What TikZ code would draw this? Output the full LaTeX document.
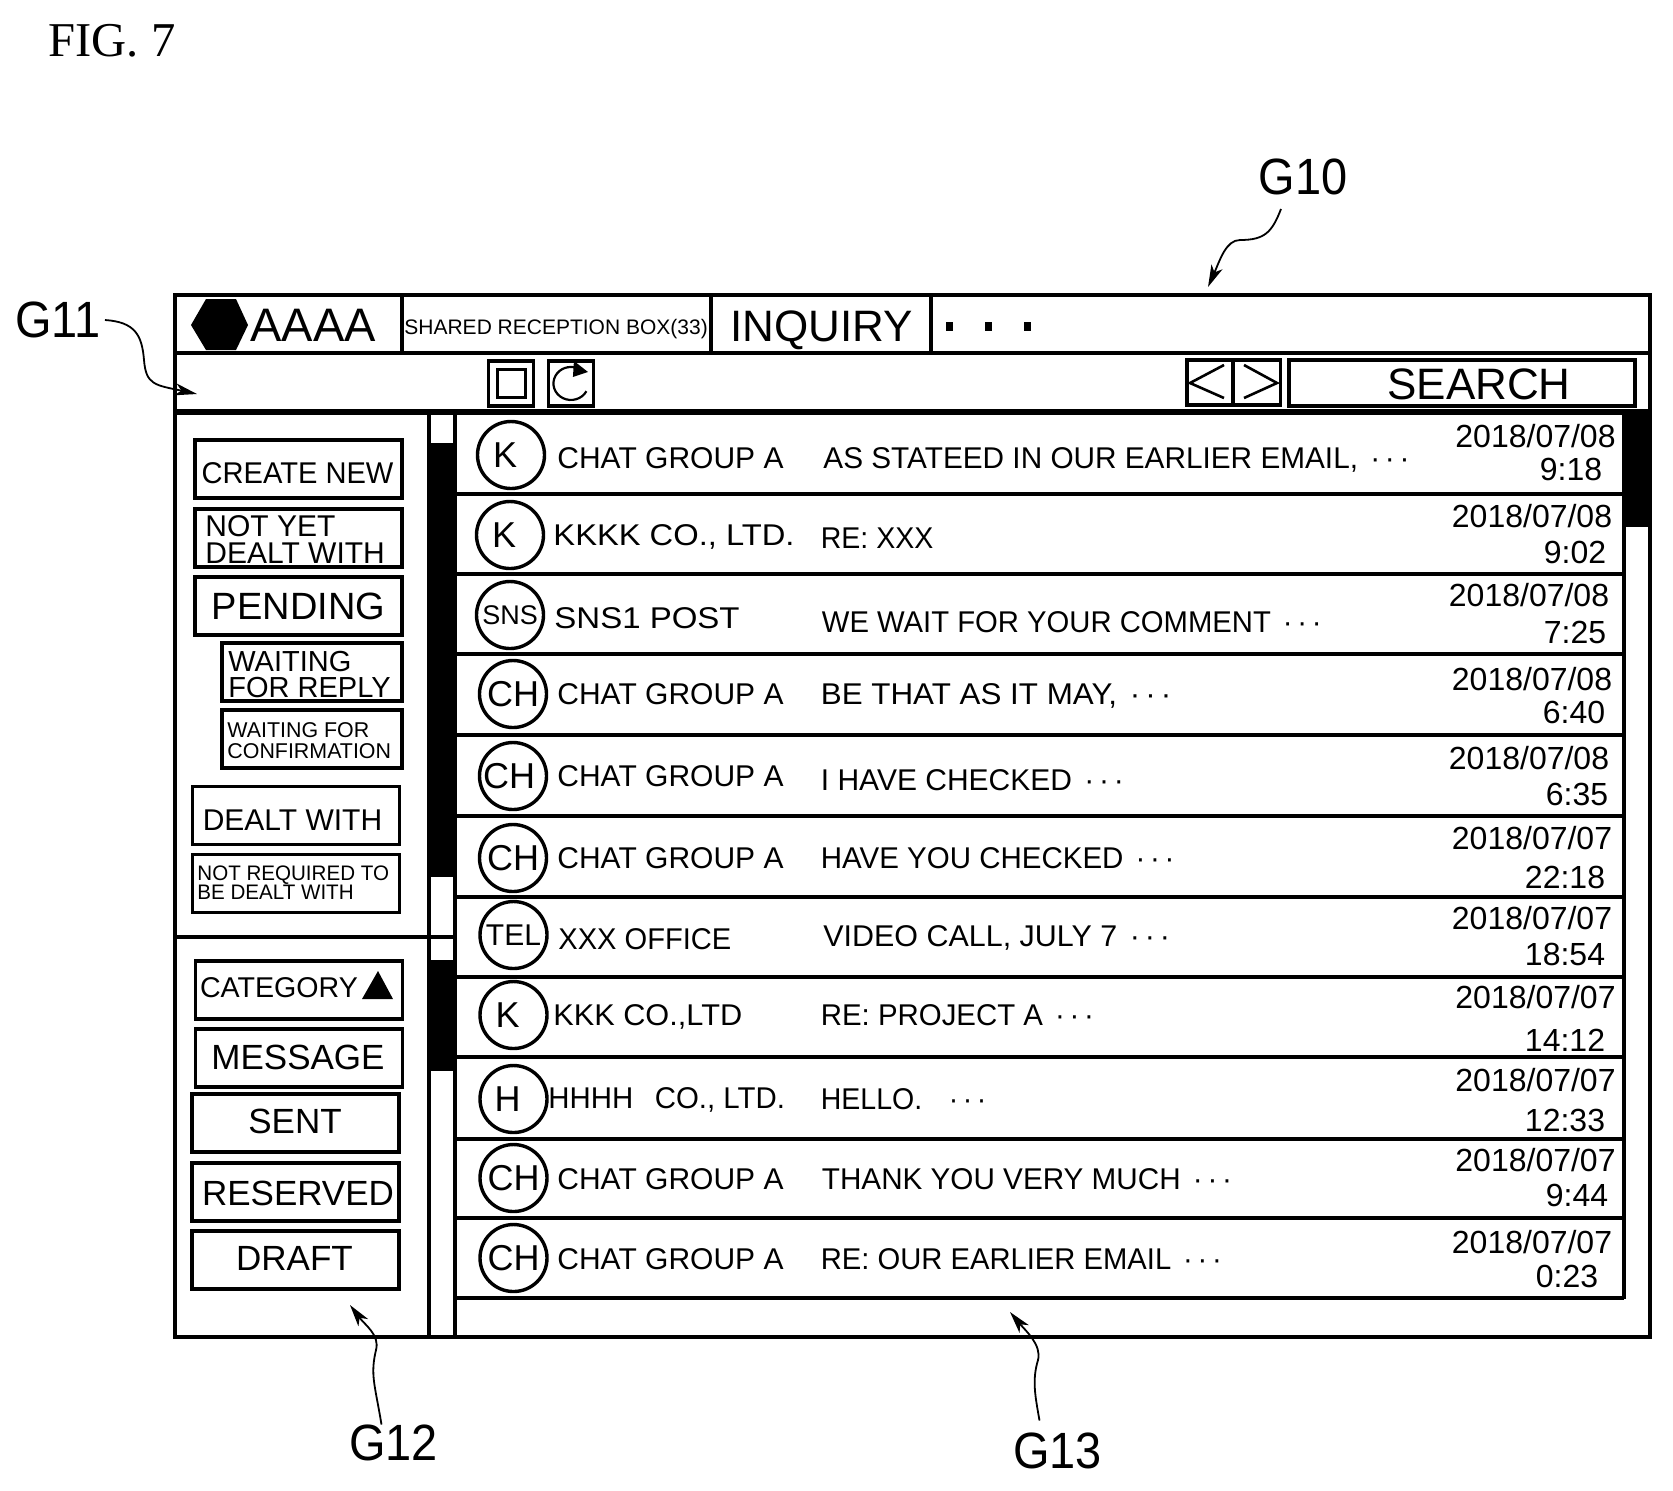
\documentclass[tikz,border=0pt]{standalone}
\usepackage{fontspec}
\setmainfont{Liberation Sans}
\newfontfamily\figfont{Liberation Serif}
\usetikzlibrary{positioning}
\usetikzlibrary{arrows.meta}
\newcommand{\rowdots}{\hspace{2pt}·\hspace{2.4pt}·\hspace{2.4pt}·}

\begin{document}
\begin{tikzpicture}[
		x=0.5pt,y=-0.5pt,
		frame/.style={draw=black,line width=1.6pt},
		rule/.style={draw=black,line width=2.4pt},
		btn/.style={draw=black,line width=1.9pt,inner sep=0pt,outer sep=0pt,minimum width=103.5pt,minimum height=29pt},
		subbtn/.style={btn,minimum width=90pt},
		toolbtn/.style={btn,minimum width=22.5pt,minimum height=22.5pt},
		badge/.style={draw=black,circle,line width=1.7pt,inner sep=0pt,outer sep=0pt,minimum size=33.5pt,font=\fontsize{18}{18}\selectfont},
		rowtext/.style={anchor=west,inner sep=0pt,font=\fontsize{15}{15}\selectfont,text height=10.7pt,text depth=0pt},
		datetext/.style={inner sep=0pt,font=\fontsize{16}{16}\selectfont,text height=11.4pt,text depth=0pt},
		btntext/.style={inner sep=0pt,text depth=0pt,text height=0.716*#1pt,font=\fontsize{#1}{#1}\selectfont},
		twolines/.style={anchor=west,align=left,inner sep=0pt},
		reftext/.style={inner sep=0pt,xscale=0.92,font=\fontsize{25.5}{25.5}\selectfont},
		leader/.style={draw=black,line width=0.9pt,-{Stealth[length=11pt,width=6pt,inset=3pt]}},
		scrollthumb/.style={fill=black},
	]
	\useasboundingbox (0,0) rectangle (1673,1490);
	\node (fig) [inner sep=0pt,font=\figfont\fontsize{24.3}{24.3}\selectfont] at (112,41) {FIG. 7};
	% Draw window frame and rules
	\draw[frame] (175,295) rectangle (1650,1337);
	\draw[rule] (175,353) -- (1650,353);
	\draw[rule,line width=2.8pt] (175,412) -- (1650,412);
	\draw[frame] (402,295) -- (402,353);
	\draw[frame] (711,295) -- (711,353);
	\draw[frame] (931,295) -- (931,353);
	\draw[frame] (429,412) -- (429,1337);
	\draw[rule] (455,412) -- (455,1337);
	\draw[rule] (175,937) -- (455,937);
	\draw[rule] (1624,412) -- (1624,1299);
	\draw[rule] (455,494) -- (1624,494);
	\draw[rule] (455,574) -- (1624,574);
	\draw[rule] (455,654) -- (1624,654);
	\draw[rule] (455,735) -- (1624,735);
	\draw[rule] (455,816) -- (1624,816);
	\draw[rule] (455,897) -- (1624,897);
	\draw[rule] (455,977) -- (1624,977);
	\draw[rule] (455,1057) -- (1624,1057);
	\draw[rule] (455,1139) -- (1624,1139);
	\draw[rule] (455,1218) -- (1624,1218);
	\draw[rule] (455,1298) -- (1624,1298);
	% Draw scroll thumbs
	\fill[scrollthumb] (428,443) rectangle (457,877);
	\fill[scrollthumb] (428,960) rectangle (457,1071);
	\fill[scrollthumb] (1624,412) rectangle (1650,527);
	% Draw title bar
	\fill (191,325) -- (206,299) -- (236,299) -- (248,325) -- (236,350) -- (206,350) -- cycle;
	\node (account) [btntext=23.5,anchor=west] at (250,325) {AAAA};
	\node (sharedbox) [btntext=10.5,anchor=west] at (404,327) {SHARED RECEPTION BOX(33)};
	\node (inquiry) [btntext=22,anchor=west] at (730,326) {INQUIRY};
	\foreach \dotx/\dotname in {949/dota,988/dotb,1027/dotc}
		\node (\dotname) [fill=black,inner sep=0pt,minimum width=3.5pt,minimum height=4.5pt] at (\dotx,326) {};
	% Draw toolbar
	\node (selectbtn) [toolbtn] at (511,383.5) {};
	\node (selectmark) [draw=black,line width=1.5pt,minimum width=14pt,minimum height=14pt,inner sep=0pt] at (511,383) {};
	\node (reloadbtn) [toolbtn] at (571,383.5) {};
	\draw[line width=1.1pt] (586.4,391.2) arc[start angle=-28,end angle=-290,x radius=8.75pt,y radius=8.25pt] coordinate (reloadend);
	\fill (reloadend) ++(-3,-7) -- ++(14,11) -- ++(-15,5) -- cycle;
	\node (prevbtn) [toolbtn,minimum width=23pt] at (1210,382.5) {};
	\node (nextbtn) [toolbtn,minimum width=23.5pt] at (1257,382.5) {};
	\draw[line width=1.3pt] (1224,365) -- (1190,383) -- (1224,398);
	\draw[line width=1.3pt] (1244,365) -- (1277,383) -- (1244,398);
	\node (searchbtn) [btn,minimum width=173pt,minimum height=23pt] at (1462,383) {};
	\node (searchtext) [btntext=22] at (1479,384) {SEARCH};
	% Draw upper menu
	\node (createnew) [btn] at (298.5,469) {};
	\node (createnewtext) [btntext=15,xscale=0.97] at (297.5,473) {CREATE NEW};
	\node (notyet) [btn] at (298.5,538) {};
	\node (notyettext) [twolines,font=\fontsize{15}{13.5}\selectfont] at (205,540) {NOT YET\\DEALT WITH};
	\node (pending) [btn] at (298.5,606) {};
	\node (pendingtext) [btntext=19] at (298.5,606) {PENDING};
	\node (waitreply) [subbtn] at (312,672) {};
	\node (waitreplytext) [twolines,font=\fontsize{14.5}{13}\selectfont] at (228,674) {WAITING\\FOR REPLY};
	\node (waitconfirm) [subbtn] at (312,739) {};
	\node (waitconfirmtext) [twolines,font=\fontsize{10.7}{10.5}\selectfont] at (227,741) {WAITING FOR\\CONFIRMATION};
	\node (dealtwith) [btn] at (296,815.5) {};
	\node (dealtwithtext) [btntext=15] at (292.5,820) {DEALT WITH};
	\node (notrequired) [btn] at (296,883.5) {};
	\node (notrequiredtext) [twolines,font=\fontsize{10.5}{9.5}\selectfont,xscale=0.98] at (197,882.5) {NOT REQUIRED TO\\BE DEALT WITH};
	% Draw lower menu
	\node (category) [btn] at (299,990) {};
	\node (categorytext) [btntext=14.3] at (279,987) {CATEGORY};
	\fill (378,971) -- (393,999) -- (362,999) -- cycle;
	\node (message) [btn] at (299,1058) {};
	\node (messagetext) [btntext=17.5] at (298,1057) {MESSAGE};
	\node (sent) [btn] at (295.5,1123) {};
	\node (senttext) [btntext=17.5] at (295,1121) {SENT};
	\node (reserved) [btn] at (295.5,1192) {};
	\node (reservedtext) [btntext=17.5] at (298,1193) {RESERVED};
	\node (draft) [btn] at (295.5,1260) {};
	\node (drafttext) [btntext=17.5] at (294.5,1258) {DRAFT};
	% Draw message rows
	\node (badgea) [badge] at (511,455) {K\hspace{6pt}\null};
	\node (namea) [rowtext] at (557,458) {CHAT GROUP A};
	\node (subja) [rowtext,xscale=0.992] at (823,458) {AS STATEED IN OUR EARLIER EMAIL, \rowdots};
	\node (datea) [datetext] at (1535.5,436) {2018/07/08};
	\node (timea) [datetext] at (1571,469.5) {9:18};
	\node (badgeb) [badge] at (510,535) {K\hspace{6pt}\null};
	\node (nameb) [rowtext,xscale=1.09] at (553,535) {KKKK CO., LTD.};
	\node (subjb) [rowtext,xscale=0.95] at (820.5,538) {RE: XXX};
	\node (dateb) [datetext] at (1532,516) {2018/07/08};
	\node (timeb) [datetext] at (1575,552) {9:02};
	\node (badgec) [badge,font=\fontsize{13.5}{13.5}\selectfont] at (510,615) {SNS};
	\node (namec) [rowtext,xscale=1.1] at (554,618) {SNS1 POST};
	\node (subjc) [rowtext,xscale=0.975] at (821.5,622) {WE WAIT FOR YOUR COMMENT \rowdots};
	\node (datec) [datetext] at (1529,595) {2018/07/08};
	\node (timec) [datetext] at (1575,632) {7:25};
	\node (badged) [badge] at (513,694) {CH};
	\node (named) [rowtext] at (557,694) {CHAT GROUP A};
	\node (subjd) [rowtext,xscale=1.045] at (820.5,694) {BE THAT AS IT MAY, \rowdots};
	\node (dated) [datetext] at (1532,679) {2018/07/08};
	\node (timed) [datetext] at (1574,712) {6:40};
	\node (badgee) [badge] at (513,776) {CH\hspace{4pt}\null};
	\node (namee) [rowtext] at (557,776) {CHAT GROUP A};
	\node (subje) [rowtext] at (820.5,780) {I HAVE CHECKED \rowdots};
	\node (datee) [datetext] at (1529,758) {2018/07/08};
	\node (timee) [datetext] at (1577,794) {6:35};
	\node (badgef) [badge] at (513,858) {CH};
	\node (namef) [rowtext] at (557,858) {CHAT GROUP A};
	\node (subjf) [rowtext,xscale=0.983] at (820.5,858) {HAVE YOU CHECKED \rowdots};
	\node (datef) [datetext] at (1532,838) {2018/07/07};
	\node (timef) [datetext] at (1565,877) {22:18};
	\node (badgeg) [badge,font=\fontsize{15}{15}\selectfont] at (513.5,935) {TEL};
	\node (nameg) [rowtext,xscale=0.97] at (558,939) {XXX OFFICE};
	\node (subjg) [rowtext,xscale=1.015] at (823,936) {VIDEO CALL, JULY 7 \rowdots};
	\node (dateg) [datetext] at (1532,918) {2018/07/07};
	\node (timeg) [datetext] at (1565,954) {18:54};
	\node (badgeh) [badge] at (513.5,1015) {K\hspace{6pt}\null};
	\node (nameh) [rowtext,xscale=1.023] at (553,1015) {KKK CO.,LTD};
	\node (subjh) [rowtext,xscale=0.98] at (820.5,1015) {RE: PROJECT A \rowdots};
	\node (dateh) [datetext] at (1535.5,997) {2018/07/07};
	\node (timeh) [datetext] at (1565,1040) {14:12};
	\node (badgei) [badge] at (513.5,1099) {H\hspace{6pt}\null};
	\node (namei) [rowtext,xscale=0.98] at (548,1098) {HHHH\hspace{11pt}CO., LTD.};
	\node (subji) [rowtext,xscale=0.95] at (820.5,1099) {HELLO.\hspace{12pt}\rowdots};
	\node (datei) [datetext] at (1535.5,1080) {2018/07/07};
	\node (timei) [datetext] at (1565,1120) {12:33};
	\node (badgej) [badge] at (513.5,1178) {CH};
	\node (namej) [rowtext] at (557,1179) {CHAT GROUP A};
	\node (subjj) [rowtext,xscale=0.989] at (821.5,1179) {THANK YOU VERY MUCH \rowdots};
	\node (datej) [datetext] at (1535.5,1160) {2018/07/07};
	\node (timej) [datetext] at (1577,1195) {9:44};
	\node (badgek) [badge] at (513.5,1258) {CH};
	\node (namek) [rowtext] at (557,1259) {CHAT GROUP A};
	\node (subjk) [rowtext,xscale=0.973] at (820.5,1259) {RE: OUR EARLIER EMAIL \rowdots};
	\node (datek) [datetext] at (1532,1242) {2018/07/07};
	\node (timek) [datetext] at (1567,1276) {0:23};
	% Draw reference labels and leaders
	\node (gten) [reftext] at (1303,176.5) {G10};
	\node (geleven) [reftext,xscale=1.0] at (58,320) {G11};
	\node (gtwelve) [reftext] at (393.5,1443) {G12};
	\node (gthirteen) [reftext] at (1057.5,1451) {G13};
	\coordinate (gtentip) at (1208,287);
	\coordinate (geleventip) at (197,394);
	\coordinate (gtwelvetip) at (350,1305);
	\coordinate (gthirteentip) at (1010,1312);
	\draw[leader] ([xshift=-11pt,yshift=-7pt]gten.south) .. controls (1272,232) and (1265,240) .. (1240,240) .. controls (1226,240) and (1220,260) .. (gtentip);
	\draw[leader] ([xshift=2pt]geleven.east) .. controls (135,322) and (142,335) .. (144,360) .. controls (146,385) and (155,385) .. (geleventip);
	\draw[leader] ([xshift=-6pt]gtwelve.north) .. controls (375,1385) and (370,1375) .. (376,1350) .. controls (380,1335) and (365,1325) .. (gtwelvetip);
	\draw[leader] ([xshift=-9pt,yshift=6pt]gthirteen.north) .. controls (1035,1395) and (1032,1380) .. (1038,1360) .. controls (1042,1345) and (1025,1330) .. (gthirteentip);
\end{tikzpicture}
\end{document}
